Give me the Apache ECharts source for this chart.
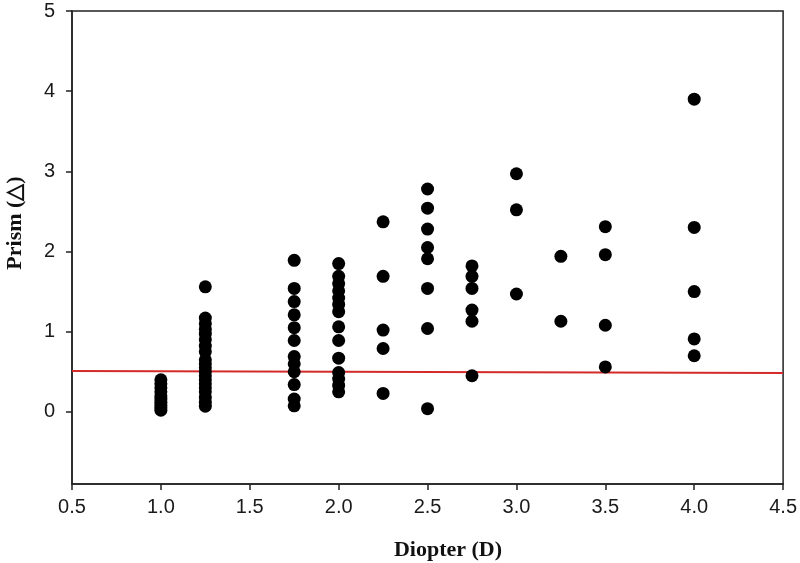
<!DOCTYPE html>
<html>
<head>
<meta charset="utf-8">
<script src="https://cdn.jsdelivr.net/npm/echarts@6/dist/echarts.min.js"></script>
<style>
html,body{margin:0;padding:0;background:#fff;}
#chart{width:800px;height:563px;}
</style>
</head>
<body>
<div id="chart"></div>
<script>
// Data
const diopters = [1.0, 1.25, 1.75, 2.0, 2.25, 2.5, 2.75, 3.0, 3.25, 3.5, 4.0];
const prismValues = [
  [0.02, 0.05, 0.08, 0.12, 0.16, 0.2, 0.25, 0.3, 0.35, 0.4],
  [0.07, 0.12, 0.18, 0.25, 0.3, 0.35, 0.4, 0.45, 0.5, 0.55, 0.6, 0.65, 0.75, 0.82, 0.9, 0.97, 1.03, 1.1, 1.17, 1.56],
  [0.075, 0.16, 0.34, 0.5, 0.6, 0.69, 0.89, 1.05, 1.21, 1.375, 1.54, 1.89],
  [0.25, 0.33, 0.41, 0.49, 0.67, 0.89, 1.06, 1.25, 1.34, 1.42, 1.51, 1.6, 1.69, 1.85],
  [0.23, 0.79, 1.02, 1.69, 2.37],
  [0.04, 1.04, 1.54, 1.91, 2.05, 2.28, 2.54, 2.78],
  [0.45, 1.13, 1.27, 1.54, 1.69, 1.82],
  [1.47, 2.52, 2.97],
  [1.13, 1.94],
  [0.56, 1.08, 1.96, 2.31],
  [0.70, 0.91, 1.50, 2.30, 3.90]
];
const refLineX = [0.5, 4.5];
const refLineY = [0.51, 0.485];
const xTicks = [0.5, 1.0, 1.5, 2.0, 2.5, 3.0, 3.5, 4.0, 4.5];
const yTicks = [0, 1, 2, 3, 4, 5];

const points = [];
diopters.forEach((d, i) => prismValues[i].forEach(v => points.push([d, v])));
const refLine = refLineX.map((x, i) => [x, refLineY[i]]);

const chart = echarts.init(document.getElementById('chart'), null, {renderer: 'canvas'});
const axisColor = '#222';
const labelFont = {fontFamily: 'Liberation Sans, Arial, sans-serif', fontSize: 20, color: '#1a1a1a'};
chart.setOption({
  animation: false,
  backgroundColor: '#fff',
  grid: {left: 72, right: 16, top: 11, bottom: 79, show: true, borderColor: axisColor, borderWidth: 1.5, containLabel: false},
  xAxis: {
    type: 'value', min: 0.5, max: 4.5, interval: 0.5,
    axisLine: {show: true, onZero: false, lineStyle: {color: axisColor, width: 1.5}},
    axisTick: {show: true, length: 6, lineStyle: {color: axisColor, width: 1.5}},
    axisLabel: Object.assign({margin: 13, formatter: v => v.toFixed(1)}, labelFont),
    splitLine: {show: false}
  },
  yAxis: {
    type: 'value', min: -0.9, max: 5,
    axisLine: {show: true, onZero: false, lineStyle: {color: axisColor, width: 1.5}},
    axisTick: {show: true, length: 6, customValues: yTicks, lineStyle: {color: axisColor, width: 1.5}},
    axisLabel: Object.assign({margin: 17, customValues: yTicks, formatter: v => String(v)}, labelFont),
    splitLine: {show: false}
  },
  graphic: [
    {type: 'text', x: 448, y: 550, style: {text: 'Diopter (D)', font: 'bold 22px "Liberation Serif", "Times New Roman", serif', fill: '#111', textAlign: 'center', textVerticalAlign: 'middle'}},
    {type: 'text', x: 15, y: 223, rotation: Math.PI / 2, style: {text: 'Prism (△)', font: 'bold 22px "Liberation Serif", "Times New Roman", serif', fill: '#111', textAlign: 'center', textVerticalAlign: 'middle'}}
  ],
  series: [
    {
      type: 'line', data: refLine, symbol: 'none', silent: true, z: 1,
      lineStyle: {color: '#d42a2a', width: 2}
    },
    {
      type: 'scatter', data: points, symbol: 'circle', symbolSize: 13, z: 2,
      itemStyle: {color: '#000', opacity: 1}
    }
  ]
});
</script>
</body>
</html>
